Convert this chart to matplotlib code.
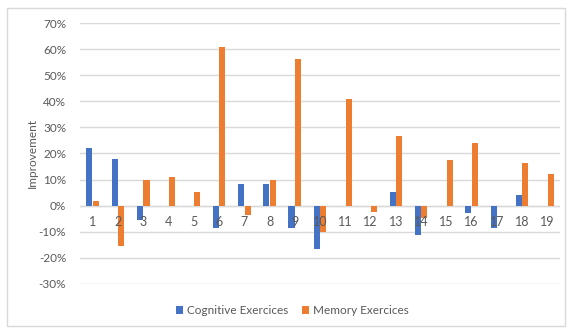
import matplotlib
matplotlib.use("Agg")
import matplotlib.pyplot as plt
import numpy as np
from matplotlib.patches import Rectangle
from matplotlib.ticker import PercentFormatter

categories = [str(i) for i in range(1, 20)]
cognitive = [22, 18, -5.5, 0, 0, -8.6, 8.3, 8.3, -8.5, -16.6, 0, 0, 5.3, -11.3, 0, -2.7, -8.6, 4, 0]
memory = [1.9, -15.6, 9.8, 11, 5.4, 61, -3.5, 9.8, 56.3, -10.2, 41, -2.3, 26.6, -4.8, 17.4, 24.2, 0, 16.4, 12.1]
series_names = ["Cognitive Exercices", "Memory Exercices"]
yticks = [-30, -20, -10, 0, 10, 20, 30, 40, 50, 60, 70]

plt.rcParams["font.family"] = ["Lato", "DejaVu Sans"]
plt.rcParams["axes.unicode_minus"] = False
text_color = "#595959"
grid_color = "#D9D9D9"

fig = plt.figure(figsize=(5.68, 3.29), dpi=100)
ax = fig.add_axes([0.141, 0.137, 0.845, 0.793])

x = np.arange(len(categories))
w = 0.24
ax.bar(x - 0.13, cognitive, width=w, color="#4472C4", label=series_names[0], zorder=3)
ax.bar(x + 0.13, memory, width=w, color="#ED7D31", label=series_names[1], zorder=3)

ax.set_ylim(-30, 70)
ax.set_xlim(-0.5, len(categories) - 0.5)
ax.set_yticks(yticks)
ax.yaxis.set_major_formatter(PercentFormatter(decimals=0))
ax.grid(axis="y", color=grid_color, linewidth=1, zorder=0)
ax.axhline(0, color=grid_color, linewidth=1, zorder=1)
for s in ax.spines.values():
    s.set_visible(False)
ax.tick_params(axis="y", length=0, labelsize=8.5, labelcolor=text_color, pad=10)
ax.set_xticks([])

# category labels sit just below the zero line
for xi, lab in zip(x, categories):
    ax.text(xi, -6.2, lab, ha="center", va="center", fontsize=9, color=text_color, zorder=4)

ax.set_ylabel("Improvement", fontsize=8.5, color=text_color)
ax.yaxis.set_label_coords(-0.088, 0.5)

leg = fig.legend(loc="center", bbox_to_anchor=(0.515, 0.055), ncol=2, frameon=False,
                 fontsize=8.5, handlelength=0.6, handleheight=0.6, handletextpad=0.3,
                 columnspacing=1.2)
for t in leg.get_texts():
    t.set_color(text_color)

fig.patches.append(Rectangle((7 / 568, 3 / 329), 558 / 568, 318 / 329, transform=fig.transFigure,
                             fill=False, edgecolor=grid_color, linewidth=1))

fig.savefig("out.png", dpi=100, facecolor="white")
